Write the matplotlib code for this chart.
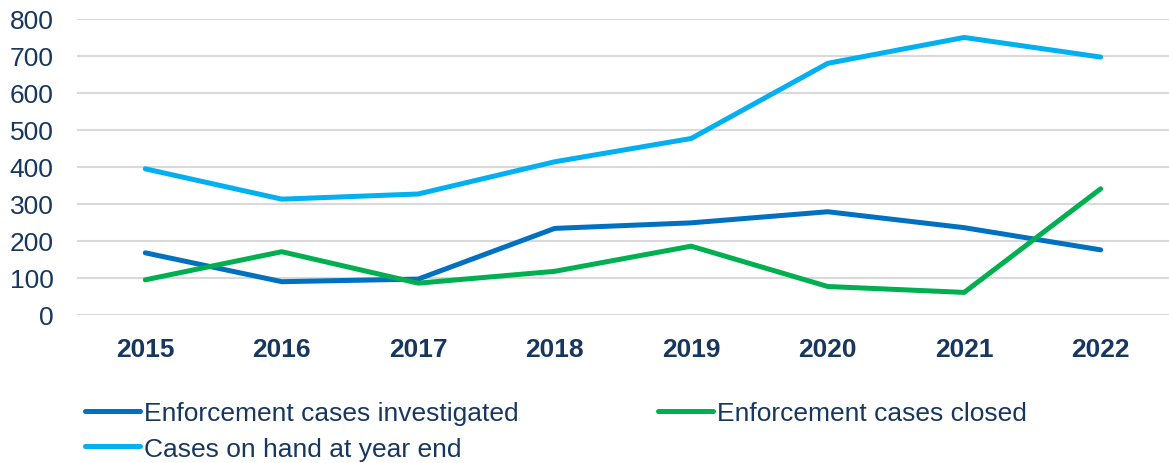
import matplotlib.pyplot as plt
import numpy as np

plt.rcParams['font.family'] = ['Liberation Sans', 'DejaVu Sans']

# ----- data -----
years = ['2015', '2016', '2017', '2018', '2019', '2020', '2021', '2022']
investigated = [168, 90, 97, 234, 249, 279, 236, 176]
closed = [95, 171, 86, 118, 186, 77, 61, 341]
on_hand = [395, 313, 327, 414, 477, 680, 750, 697]

text_col = '#17375E'

fig = plt.figure(figsize=(11.69, 4.64), dpi=100)
ax = fig.add_axes([0.0659, 0.319, 0.934, 0.638])

x = np.arange(len(years))
l1, = ax.plot(x, investigated, color='#0070C0', lw=3.6, solid_capstyle='round', solid_joinstyle='round',
              label='Enforcement cases investigated')
l2, = ax.plot(x, closed, color='#00B050', lw=3.6, solid_capstyle='round', solid_joinstyle='round',
              label='Enforcement cases closed')
l3, = ax.plot(x, on_hand, color='#00B0F0', lw=3.6, solid_capstyle='round', solid_joinstyle='round',
              label='Cases on hand at year end')

ax.set_xlim(-0.5, len(years) - 0.5)
ax.set_ylim(0, 800)
ax.set_yticks(np.arange(0, 801, 100))
ax.set_xticks(x)
ax.set_xticklabels(years, fontweight='bold')
ax.grid(axis='y', color='#D9D9D9', lw=1.5)
ax.set_axisbelow(True)
for s in ax.spines.values():
    s.set_visible(False)
ax.tick_params(axis='both', length=0, colors=text_col, labelsize=19)
ax.tick_params(axis='y', pad=17)
ax.tick_params(axis='x', pad=16)

fig.legend(handles=[l1, l3, l2], loc='upper left', bbox_to_anchor=(0.0727, 0.134),
           ncol=2, frameon=False, fontsize=19, labelcolor=text_col,
           handlelength=2.1, handletextpad=0.15, columnspacing=5.26,
           labelspacing=0.45, borderaxespad=0, borderpad=0)

fig.savefig('out.png', dpi=100)
